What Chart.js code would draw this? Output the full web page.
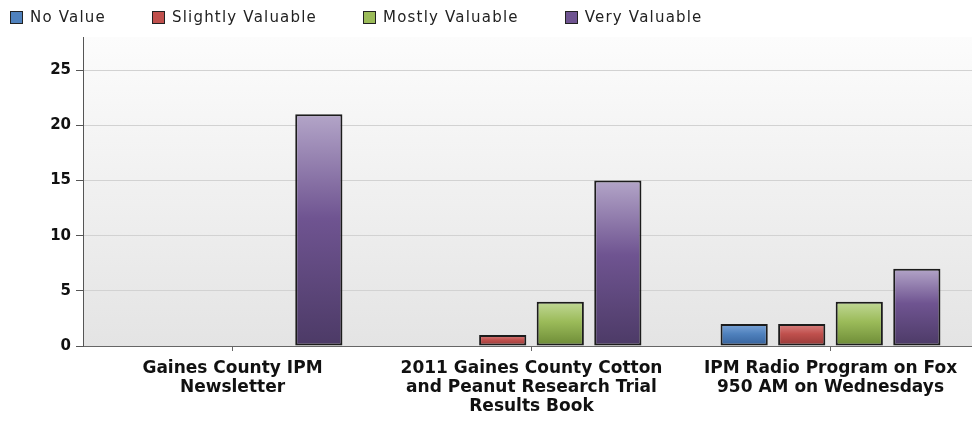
<!DOCTYPE html>
<html>
<head>
<meta charset="utf-8">
<script src="https://cdn.jsdelivr.net/npm/chart.js@4/dist/chart.umd.min.js"></script>
<style>
  html, body { margin: 0; padding: 0; background: #fff; overflow: hidden; }
  #wrap { position: relative; width: 980px; height: 421px; }
  #legend {
    position: absolute; left: 10px; top: 8px;
    display: flex; align-items: center;
    font-family: "DejaVu Sans", sans-serif; font-size: 15px; letter-spacing: 1.2px; color: #222;
  }
  #legend .item { display: flex; align-items: center; margin-right: 46px; }
  #legend .box { width: 11px; height: 11px; border: 1px solid #222; margin-right: 7px; }
</style>
</head>
<body>
<div id="wrap">
  <div id="legend"></div>
  <canvas id="valueChart" width="980" height="421"></canvas>
</div>
<script>
const categories = [
    ["Gaines County IPM", "Newsletter"],
    ["2011 Gaines County Cotton", "and Peanut Research Trial", "Results Book"],
    ["IPM Radio Program on Fox", "950 AM on Wednesdays"]
];
const seriesNames = ["No Value", "Slightly Valuable", "Mostly Valuable", "Very Valuable"];
const noValue = [0, 0, 2];
const slightlyValuable = [0, 1, 2];
const mostlyValuable = [0, 4, 4];
const veryValuable = [21, 15, 7];
const yTicks = [0, 5, 10, 15, 20, 25];

// light top / base / dark bottom for each series
const palette = [
    ["#7ea6d8", "#4f81bd", "#34609a"],
    ["#d98482", "#c0504d", "#943836"],
    ["#c1d896", "#9bbb59", "#6c8a36"],
    ["#b3a5c8", "#6f5491", "#4c3a66"]
];

function barFill(idx) {
    return function (ctx) {
        const chart = ctx.chart;
        if (!chart.chartArea || ctx.parsed == null) return palette[idx][1];
        const y = chart.scales.y;
        const top = y.getPixelForValue(ctx.parsed.y);
        const bottom = y.getPixelForValue(0);
        if (bottom - top < 1) return palette[idx][1];
        const g = chart.ctx.createLinearGradient(0, top, 0, bottom);
        g.addColorStop(0, palette[idx][0]);
        g.addColorStop(0.45, palette[idx][1]);
        g.addColorStop(1, palette[idx][2]);
        return g;
    };
}

const plotBackground = {
    id: "plotBackground",
    beforeDraw(chart) {
        const { ctx, chartArea: a } = chart;
        const g = ctx.createLinearGradient(0, a.top, 0, a.bottom);
        g.addColorStop(0, "#fcfcfc");
        g.addColorStop(1, "#e4e4e4");
        ctx.save();
        ctx.fillStyle = g;
        ctx.fillRect(a.left, a.top, a.right - a.left, a.bottom - a.top);
        ctx.restore();
    }
};

const seriesData = [noValue, slightlyValuable, mostlyValuable, veryValuable];

const chart = new Chart(document.getElementById("valueChart"), {
    type: "bar",
    data: {
        labels: categories,
        datasets: seriesData.map((vals, i) => ({
            label: seriesNames[i],
            data: vals,
            backgroundColor: barFill(i),
            borderColor: "#1c1c1c",
            borderWidth: (ctx) => (ctx.raw ? 2 : 0),
            borderSkipped: false,
            categoryPercentage: 0.77,
            barPercentage: 0.82
        }))
    },
    options: {
        responsive: false,
        animation: false,
        layout: { padding: { top: 37, left: 0, right: 0, bottom: 0 } },
        plugins: {
            legend: { display: false },
            tooltip: { enabled: false }
        },
        scales: {
            x: {
                grid: {
                    offset: false,
                    drawOnChartArea: false,
                    drawTicks: true,
                    tickLength: 5,
                    tickColor: "#666"
                },
                border: { color: "#666", width: 1 },
                ticks: {
                    color: "#111",
                    maxRotation: 0,
                    autoSkip: false,
                    padding: 8,
                    font: { family: "DejaVu Sans", size: 17, weight: "bold", lineHeight: "19px" }
                },
                afterFit(scale) { scale.height = 75; }
            },
            y: {
                min: 0,
                max: 28,
                afterBuildTicks(scale) {
                    scale.ticks = yTicks.map(v => ({ value: v }));
                },
                grid: {
                    color: "#d2d2d2",
                    tickColor: "#555",
                    tickLength: 7
                },
                border: { color: "#555", width: 1 },
                ticks: {
                    color: "#111",
                    padding: 5,
                    font: { family: "DejaVu Sans", size: 15, weight: "bold" }
                },
                afterFit(scale) { scale.width = 83; }
            }
        }
    },
    plugins: [plotBackground]
});

// legend built from the chart's own datasets
const legendEl = document.getElementById("legend");
chart.data.datasets.forEach((ds, i) => {
    const item = document.createElement("span");
    item.className = "item";
    const box = document.createElement("span");
    box.className = "box";
    box.style.background = palette[i][1];
    item.appendChild(box);
    item.appendChild(document.createTextNode(ds.label));
    legendEl.appendChild(item);
});
</script>
</body>
</html>
